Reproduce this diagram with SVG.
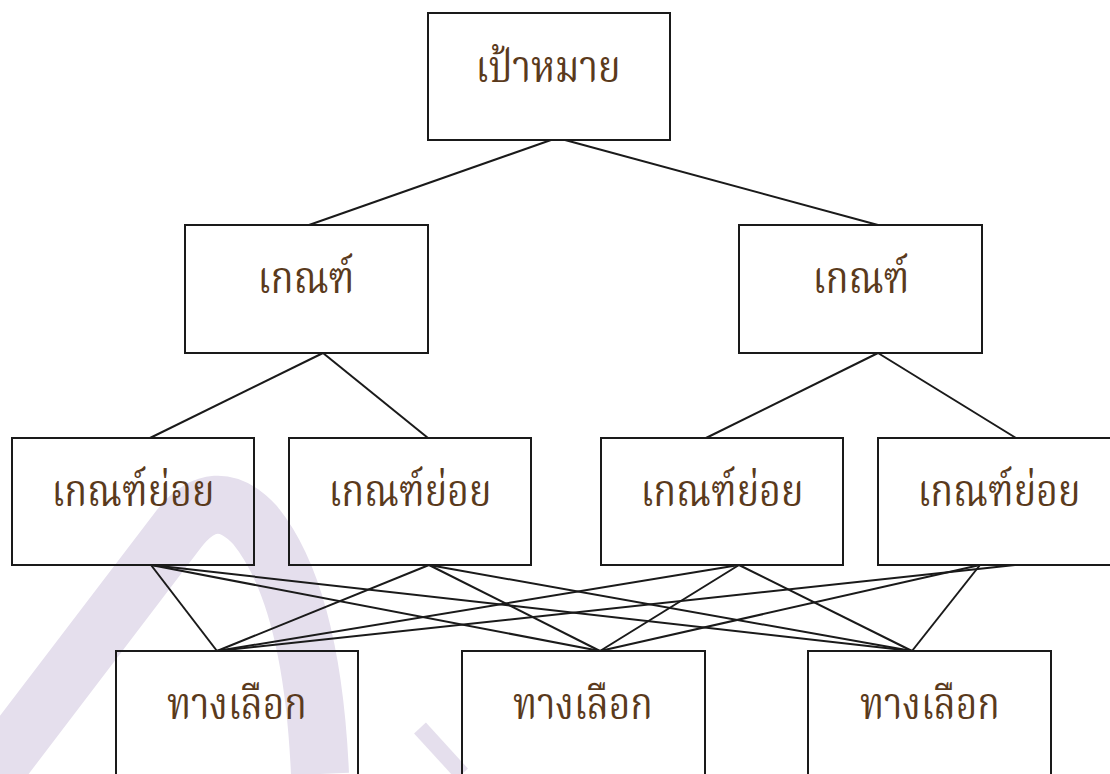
<svg xmlns="http://www.w3.org/2000/svg" width="1110" height="774" viewBox="0 0 1110 774">
<style>
.box{fill:none;stroke:#1a1a1a;stroke-width:2}
.lbl{font-family:"Noto Serif Thai","Noto Sans Thai","Liberation Serif","DejaVu Serif",serif;font-size:44px;fill:#5a3a1c;text-anchor:middle}
#connectors line{stroke:#1a1a1a;stroke-width:2}
</style>
<rect width="1110" height="774" fill="#ffffff"/>
<g id="watermark" fill="none" stroke="#e5dfed" stroke-linecap="butt">
<path d="M -20 790 L 178 530 Q 215 482 255 525 Q 312 595 320 774" stroke-width="58"/>
<path d="M 420 728 L 462 774" stroke-width="16"/>
</g>
<g id="connectors">
<line x1="551" y1="140" x2="309" y2="225"/>
<line x1="565" y1="140" x2="878" y2="225"/>
<line x1="323" y1="353" x2="150" y2="438"/>
<line x1="323" y1="353" x2="428" y2="438"/>
<line x1="878" y1="353" x2="706" y2="438"/>
<line x1="878" y1="353" x2="1016" y2="438"/>
<line x1="151" y1="565" x2="217" y2="651"/>
<line x1="151" y1="565" x2="600" y2="651"/>
<line x1="151" y1="565" x2="912" y2="651"/>
<line x1="429" y1="565" x2="217" y2="651"/>
<line x1="429" y1="565" x2="600" y2="651"/>
<line x1="429" y1="565" x2="912" y2="651"/>
<line x1="739" y1="565" x2="217" y2="651"/>
<line x1="739" y1="565" x2="600" y2="651"/>
<line x1="739" y1="565" x2="912" y2="651"/>
<line x1="1015" y1="565" x2="217" y2="651"/>
<line x1="980" y1="565" x2="600" y2="651"/>
<line x1="980" y1="565" x2="912" y2="651"/>
</g>
<g id="goal"><rect class="box" x="428" y="13" width="242" height="127"/><text class="lbl" x="548" y="82" textLength="145" lengthAdjust="spacingAndGlyphs">เป้าหมาย</text></g>
<g id="criterion1"><rect class="box" x="185" y="225" width="243" height="128"/><text class="lbl" x="306" y="293" textLength="97" lengthAdjust="spacingAndGlyphs">เกณฑ์</text></g>
<g id="criterion2"><rect class="box" x="739" y="225" width="243" height="128"/><text class="lbl" x="861" y="293" textLength="97" lengthAdjust="spacingAndGlyphs">เกณฑ์</text></g>
<g id="sub1"><rect class="box" x="12" y="438" width="242" height="127"/><text class="lbl" x="133" y="506" textLength="163" lengthAdjust="spacingAndGlyphs">เกณฑ์ย่อย</text></g>
<g id="sub2"><rect class="box" x="289" y="438" width="242" height="127"/><text class="lbl" x="410" y="506" textLength="163" lengthAdjust="spacingAndGlyphs">เกณฑ์ย่อย</text></g>
<g id="sub3"><rect class="box" x="601" y="438" width="242" height="127"/><text class="lbl" x="722" y="506" textLength="163" lengthAdjust="spacingAndGlyphs">เกณฑ์ย่อย</text></g>
<g id="sub4"><rect class="box" x="878" y="438" width="242" height="127"/><text class="lbl" x="999" y="506" textLength="163" lengthAdjust="spacingAndGlyphs">เกณฑ์ย่อย</text></g>
<g id="alt1"><rect class="box" x="116" y="651" width="242" height="130"/><text class="lbl" x="237" y="719" textLength="140" lengthAdjust="spacingAndGlyphs">ทางเลือก</text></g>
<g id="alt2"><rect class="box" x="462" y="651" width="243" height="130"/><text class="lbl" x="583" y="719" textLength="140" lengthAdjust="spacingAndGlyphs">ทางเลือก</text></g>
<g id="alt3"><rect class="box" x="808" y="651" width="243" height="130"/><text class="lbl" x="930" y="719" textLength="140" lengthAdjust="spacingAndGlyphs">ทางเลือก</text></g>
</svg>
